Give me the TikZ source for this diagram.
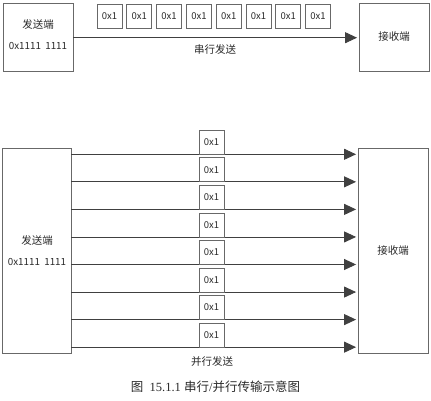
\documentclass[tikz,border=0pt]{standalone}
\usepackage{fontspec}
\setmainfont{Liberation Serif}
\setsansfont{Liberation Sans}
\newfontfamily\cjk{Noto Sans CJK SC}
\usetikzlibrary{arrows.meta}
\definecolor{boxline}{HTML}{686868}
\definecolor{wire}{HTML}{404040}
\definecolor{txt}{HTML}{2A2A2A}
\tikzset{
  endbox/.style={draw=boxline, line width=0.9pt, inner sep=0pt, minimum width=70pt, fill=white},
  bitbox/.style={draw=boxline, line width=0.9pt, inner sep=0pt, minimum width=25pt, minimum height=24pt, font=\cjk\fontsize{9.5}{11}\selectfont, text=txt},
  lbl/.style={inner sep=0pt, text=txt, font=\cjk\fontsize{10.5}{12}\selectfont},
  vallbl/.style={inner sep=0pt, text=txt, font=\cjk\fontsize{9.8}{12}\selectfont},
  wirearrow/.style={draw=wire, line width=0.9pt, -{Triangle[length=12pt,width=11pt]}, shorten >=1.5pt}
}
\begin{document}
\begin{tikzpicture}[x=1pt,y=-1pt]
\useasboundingbox[fill=white] (0,0) rectangle (431,400);
% ---------- serial ----------
\node[endbox, minimum height=68pt] (ssend) at (38,37) {};
\node[endbox, minimum height=68pt] (srecv) at (394,37) {};
\node[lbl] (ssendt) at (38,25) {发送端};
\node[vallbl] (ssendv) at (38,46) {0x1111\ \ 1111};
\node[lbl] (srecvt) at (394,37) {接收端};
\foreach \i in {1,...,8}{
  \node[bitbox] (s\i) at ({109.5+29.8*(\i-1)},16) {0x1};
}
\coordinate (sa) at (ssend.east |- 0,37.7);
\coordinate (sb) at (srecv.west |- 0,37.7);
\draw[wirearrow] (sa) -- (sb);
\node[lbl] (slab) at (215,50) {串行发送};
% ---------- parallel ----------
\node[endbox, minimum width=69pt, minimum height=205pt] (psend) at (36.5,250.5) {};
\node[endbox, minimum height=205pt] (precv) at (393,250.5) {};
\node[lbl] (psendt) at (37,240) {发送端};
\node[vallbl] (psendv) at (37,261.7) {0x1111\ \ 1111};
\node[lbl] (precvt) at (393,250.7) {接收端};
\foreach \i in {1,...,8}{
  \pgfmathsetmacro{\yy}{154.3+27.55*(\i-1)}
  \coordinate (pa\i) at (psend.east |- 0,\yy);
  \coordinate (pb\i) at (precv.west |- 0,\yy);
  \draw[wirearrow] (pa\i) -- (pb\i);
  \node[bitbox] (p\i) at (211.5,\yy-12) {0x1};
}
\node[lbl] (plab) at (212,361.7) {并行发送};
% ---------- caption ----------
\node[inner sep=0pt, text=txt, font=\fontsize{12.5}{14}\selectfont] (cap) at (215.5,387) {{\cjk 图}\ \ 15.1.1\ {\cjk 串行}/{\cjk 并行传输示意图}};
\end{tikzpicture}
\end{document}
